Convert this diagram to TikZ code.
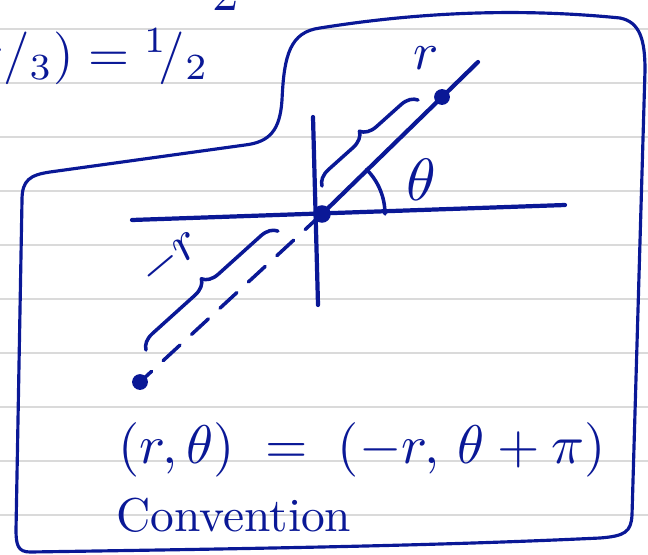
\documentclass[tikz,border=0pt]{standalone}
\usepackage{amsmath}
\usepackage{tikz}
\usepackage{xcolor}
\usetikzlibrary{decorations.pathreplacing,calc}

\definecolor{ink}{RGB}{10,24,150}
\definecolor{paperline}{RGB}{218,218,218}

\begin{document}
\begin{tikzpicture}[x=0.02cm, y=-0.02cm,
        pen/.style={ink, line width=2.4pt, line cap=round, line join=round},
        hand/.style={ink, inner sep=0pt, scale=#1},
        hand/.default=3,
        curly/.style={pen, line width=2pt, decorate, decoration={brace, amplitude=9pt}}]
        \useasboundingbox (0,0) rectangle (648,554);

        % Ruled paper
        \foreach \y in {29,83,...,515}
            \draw[paperline, line width=1.5pt] (0,\y) -- (648,\y);

        % Left-over text at the top
        \node[hand, anchor=east] (prev) at (210,57) {$\pi/_3) = {}^1\!/_2$};
        \node[hand] (sq) at (226,-6) {$2$};

        % Frame
        \draw[pen, line width=1.8pt]
            (22,200) .. controls (22,180) and (30,175) .. (50,172)
            -- (245,145) .. controls (270,142) and (280,130) .. (282,100)
            .. controls (284,55) and (290,32) .. (320,28)
            .. controls (420,12) and (520,8) .. (620,18)
            .. controls (640,22) and (645,40) .. (645,70)
            -- (632,515) .. controls (631,532) and (625,536) .. (600,538)
            .. controls (450,545) and (300,548) .. (30,552)
            .. controls (18,552) and (16,545) .. (16,530)
            -- cycle;

        % Axes
        \coordinate (O) at (322,214);
        \coordinate (xl) at (132,220);
        \coordinate (xr) at (565,205);
        \coordinate (yt) at (313,117);
        \coordinate (yb) at (318,305);
        \draw[pen] (xl) -- (xr);
        \draw[pen] (yt) -- (yb);

        % Ray and points
        \coordinate (P) at (442,97);
        \coordinate (Pend) at (478,62);
        \coordinate (Q) at (140,382);
        \draw[pen] (O) -- (Pend);
        \draw[pen, line width=2pt, dash pattern=on 13pt off 9pt] (O) -- (Q);
        \fill[ink] (O) circle (5pt);
        \fill[ink] (P) circle (4.5pt);
        \fill[ink] (Q) circle (4.5pt);

        % Angle
        \draw[pen, line width=2pt] ($(O)+(63,0)$) arc[start angle=0, end angle=-45, radius=63];
        \node[hand=3.4] (theta) at (421,180) {$\theta$};

        % Braces
        \draw[curly] (322,186) -- (418,100);
        \node[hand] (r) at (426,58) {$r$};
        \draw[curly] (146,350) -- (278,231);
        \node[hand, rotate=40] (negr) at (170,258) {$-r$};

        % Convention
        \node[hand=3.1] (eq) at (362,450) {$(r,\theta) \;=\; (-r,\, \theta+\pi)$};
        \node[hand=2.7] (conv) at (234,515) {Convention};
\end{tikzpicture}
\end{document}
